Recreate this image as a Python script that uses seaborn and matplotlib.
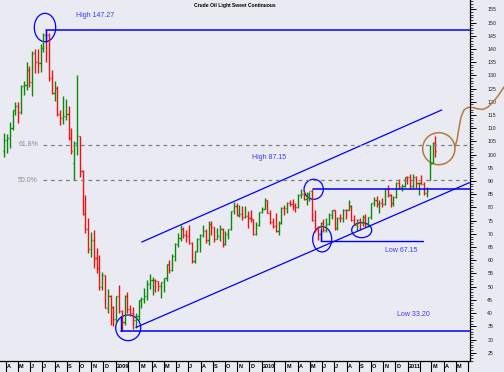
import numpy as np
import pandas as pd
import matplotlib
matplotlib.use("Agg")
import matplotlib.pyplot as plt
import matplotlib.dates as mdates
from matplotlib.patches import Ellipse
from matplotlib.ticker import MultipleLocator
import seaborn as sns

# ---------------- data (weekly OHLC) ----------------
opens = [101.5,105.6,106.2,110.1,116.7,118.5,116.3,126.0,126.3,132.2,127.4,138.5,134.9,134.6,140.2,145.3,145.1,128.9,123.3,125.1,
         115.2,113.8,114.6,115.5,106.2,97.0,104.5,106.9,93.9,77.7,71.9,64.2,67.8,61.0,57.0,49.9,54.4,42.0,46.3,42.4,
         37.7,46.3,40.8,36.5,46.5,41.7,40.2,37.5,38.9,44.8,45.5,46.3,51.1,52.4,52.5,52.2,50.3,51.6,53.2,58.6,
         56.3,61.7,66.3,68.4,72.0,69.6,69.2,66.7,59.9,63.6,68.1,69.5,70.9,67.5,73.9,72.7,68.0,69.3,72.0,66.0,
         69.9,71.8,78.5,80.5,77.0,77.4,76.4,76.7,76.1,75.5,69.9,73.4,78.1,79.4,82.8,78.0,74.5,72.9,71.2,74.1,
         79.8,79.7,81.5,81.2,80.7,80.0,84.9,85.0,83.2,85.1,86.2,75.1,71.6,70.0,74.0,71.5,73.8,77.2,78.9,72.1,
         76.1,76.0,79.0,78.9,80.7,75.4,73.5,75.2,74.6,76.5,73.7,76.5,81.6,82.7,81.3,81.7,81.4,86.9,84.9,81.5,
         83.8,89.2,87.8,88.0,91.5,91.4,88.0,91.5,89.1,89.3,89.0,85.6,90.5,96.7,104.4]
highs = [108.0,107.9,112.2,117.0,119.9,119.8,126.2,127.8,135.1,133.6,139.1,139.9,139.9,141.7,145.9,147.27,146.0,132.0,127.9,126.0,
         117.0,122.0,121.0,118.4,110.0,105.0,130.0,107.0,94.0,84.7,76.0,70.8,71.5,64.6,62.0,55.7,54.4,49.0,47.0,42.6,
         46.5,50.5,41.0,46.9,47.9,43.0,42.5,40.0,45.0,46.2,49.5,52.5,54.7,53.5,53.0,52.3,51.6,53.4,58.6,60.1,
         62.3,66.5,70.3,73.2,72.6,71.6,73.4,66.8,63.7,68.4,69.9,73.4,72.0,74.7,75.0,72.7,72.2,73.2,72.3,71.0,
         72.0,78.8,82.0,81.6,81.0,80.5,80.5,78.7,79.0,75.5,74.5,78.1,80.0,83.5,83.0,79.2,76.0,78.0,75.0,80.0,
         81.0,82.0,82.9,83.2,81.5,85.0,87.0,86.4,85.9,86.0,87.15,79.0,73.0,74.5,75.5,76.0,77.8,79.0,79.1,76.3,
         77.4,79.4,79.5,82.9,81.0,77.0,75.5,76.0,77.0,77.6,76.5,81.6,84.0,84.2,83.0,83.6,87.0,88.6,85.0,84.5,
         89.7,90.8,89.0,91.6,92.0,92.6,92.6,92.0,89.8,92.2,89.5,87.8,103.6,104.9,106.9]
lows = [99.2,100.5,102.4,109.5,115.0,111.8,115.5,122.5,124.6,125.5,122.3,130.8,131.0,131.2,139.0,135.0,128.0,122.8,120.4,114.6,
        111.3,111.4,113.0,105.5,100.2,90.4,100.0,91.6,77.0,70.2,62.8,61.4,57.0,55.2,48.8,48.8,41.8,40.0,35.5,35.2,
        36.2,40.1,33.2,35.6,40.0,38.8,33.9,34.4,37.5,41.8,43.8,45.0,49.0,47.0,48.0,48.3,45.9,48.0,52.2,55.3,
        56.1,59.7,65.1,67.4,68.6,67.0,66.3,59.0,59.1,63.0,63.1,69.0,66.6,65.7,69.5,67.0,67.9,67.4,65.1,65.6,
        68.0,71.3,77.6,76.7,76.3,75.4,76.1,72.4,74.5,69.5,69.5,73.0,77.9,79.4,77.8,73.8,72.4,70.8,69.5,73.8,
        77.3,78.0,80.4,79.0,78.3,79.7,83.6,82.7,81.0,82.4,74.7,70.8,67.5,67.15,70.8,70.8,73.5,75.5,71.6,71.6,
        74.5,74.5,75.5,78.9,75.0,73.3,71.0,71.5,73.0,72.6,72.6,75.6,80.5,80.0,78.0,80.2,80.9,84.0,80.0,80.4,
        83.5,87.0,86.2,87.6,88.9,87.0,87.3,87.2,84.6,88.9,84.9,83.9,90.4,96.7,99.0]
closes = [105.6,106.2,110.1,116.7,118.5,116.3,126.0,126.3,132.2,127.4,138.5,134.9,134.6,140.2,145.3,145.1,128.9,123.3,125.1,115.2,
          113.8,114.6,115.5,106.2,101.2,104.5,106.9,93.9,77.7,71.9,64.2,67.8,61.0,57.0,49.9,54.4,42.0,46.3,42.4,37.7,
          46.3,40.8,36.5,46.5,41.7,40.2,37.5,38.9,44.8,45.5,46.3,51.1,52.4,52.5,52.2,50.3,51.6,53.2,58.6,56.3,
          61.7,66.3,68.4,72.0,69.6,69.2,66.7,59.9,63.6,68.1,69.5,70.9,67.5,73.9,72.7,68.0,69.3,72.0,66.0,69.9,
          71.8,78.5,80.5,77.0,77.4,76.4,76.7,76.1,75.5,69.9,73.4,78.1,79.4,82.8,78.0,74.5,72.9,71.2,74.1,79.8,
          79.7,81.5,81.2,80.7,80.0,84.9,85.0,83.2,85.1,86.2,75.1,71.6,70.0,74.0,71.5,73.8,77.2,78.9,72.1,76.1,
          76.0,79.0,78.9,80.7,75.4,73.5,75.2,74.6,76.5,73.7,76.5,81.6,82.7,81.3,81.7,81.4,86.9,84.9,81.5,83.8,
          89.2,87.8,88.0,91.5,91.4,88.0,91.5,89.1,89.3,89.0,85.6,86.2,96.5,104.4,101.2]
first_week = "2008-03-28"

title = "Crude Oil Light Sweet Continuous"
month_labels = ["A","M","J","J","A","S","O","N","D","2009","","M","A","M","J","J","A","S","O","N","D",
                "2010","","M","A","M","J","J","A","S","O","N","D","2011","","M","A","M"]
high_level, low_level = 147.27, 33.20
high2_level, low2_level = 87.15, 67.15
fib_levels = [low_level + 0.618 * (high_level - low_level), low_level + 0.5 * (high_level - low_level)]
fib_labels = ["61.8%", "50.0%"]

# ---------------- style ----------------
sns.set_theme(style="dark", rc={"axes.facecolor": "#EAEAF2", "figure.facecolor": "#EAEAF2"})
plt.rcParams["font.family"] = ["Liberation Sans", "DejaVu Sans"]

fig = plt.figure(figsize=(5.04, 3.72), dpi=100)
ax = fig.add_axes([0, 11 / 372, 470 / 504, 361 / 372])

n = len(closes)
dates = pd.date_range(first_week, periods=n, freq="W-FRI")
xd = mdates.date2num(dates)
up = np.array(closes) >= np.array(opens)
cols = np.where(up, "#0A890A", "#EE1111")

ax.vlines(xd, lows, highs, colors=cols, lw=1.0)
ax.hlines(opens, xd - 2.7, xd, colors=cols, lw=1.0)
ax.hlines(closes, xd, xd + 2.7, colors=cols, lw=1.0)

base = pd.Timestamp("2008-04-01")
def D(days):
    return mdates.date2num(base + pd.to_timedelta(days, unit="D"))

x0, x1 = D(-14.25), D(1160.75)
ax.set_xlim(x0, x1)
ax.set_ylim(21.88, 158.52)

blue = "#0000FF"
# horizontal levels
ax.plot([D(100), x1], [high_level, high_level], color=blue, lw=1.1)
ax.plot([D(100), D(100)], [high_level, 142.7], color=blue, lw=1.0)
ax.plot([D(288.25), x1], [low_level, low_level], color=blue, lw=1.1)
ax.plot([D(288.25), D(288.25)], [low_level, 39.0], color=blue, lw=1.0)
ax.plot([D(767), x1], [high2_level, high2_level], color=blue, lw=1.1)
ax.plot([D(788.25), D(1042.5)], [low2_level, low2_level], color=blue, lw=1.0)
ax.plot([D(788.25), D(788.25)], [low2_level, 71.5], color=blue, lw=1.0)

# channel lines
sns.lineplot(x=[D(340), D(1090)], y=[66.9, 116.9], ax=ax, color=blue, lw=0.9)
sns.lineplot(x=[D(325.75), D(1159.5)], y=[34.6, 89.4], ax=ax, color=blue, lw=0.9)

# fibonacci dashed lines
for lv, lb in zip(fib_levels, fib_labels):
    ax.plot([D(93.25), x1], [lv, lv], color="#808080", lw=0.9, ls=(0, (3, 3)))
    ax.text(D(80.75), lv, lb, ha="right", va="center", fontsize=5, color="#8C8C8C")

# circles
for cx, cy, w, h in [(98.25, 148.1, 53.5, 10.75), (306.25, 34.45, 62.5, 9.73),
                     (770, 86.87, 48.25, 7.57), (791.25, 67.95, 47.5, 9.58),
                     (890, 71.4, 50, 5.68)]:
    ax.add_patch(Ellipse((D(cx), cy), w, h, fill=False, ec=blue, lw=0.9))
brown = "#B47A40"
ax.add_patch(Ellipse((D(1082.75), 102.24), 80.75, 12.1, fill=False, ec=brown, lw=1.1))
cd = [1123.25, 1128.25, 1133.25, 1138.25, 1145.75, 1155.75, 1168.25, 1180.75, 1193.25, 1205.75, 1218.25, 1230.75, 1245.75]
cp = [103.0, 105.5, 110.1, 114.2, 116.9, 117.9, 117.8, 117.3, 117.1, 118.0, 119.9, 122.2, 125.6]
ax.plot([D(d) for d in cd], cp, color=brown, lw=1.1, clip_on=False, solid_capstyle="round")

# texts
tc = "#3A3AF0"
ax.text(D(175.75), 152.8, "High 147.27", fontsize=5, color=tc, va="center")
ax.text(D(615), 99.0, "High 87.15", fontsize=5, color=tc, va="center")
ax.text(D(948.25), 63.6, "Low 67.15", fontsize=5, color=tc, va="center")
ax.text(D(977.5), 39.6, "Low 33.20", fontsize=5, color=tc, va="center")
ax.text(0.5, 0.986, title, transform=ax.transAxes, ha="center", va="center",
        fontsize=3.6, fontweight="bold", color="black")

# axes: x month ticks
months = pd.date_range("2008-04-01", "2011-06-01", freq="MS")
mx = mdates.date2num(months)
ax.set_xticks(mx)
ax.set_xticklabels([])
ax.tick_params(axis="x", bottom=True, length=8, width=0.8, color="black", direction="out")
for m, lab in zip(mx[:-1], month_labels):
    if lab:
        ax.text(m + 2.5, -0.016, lab, transform=ax.get_xaxis_transform(), ha="left", va="center",
                fontsize=4, fontweight="bold", color="black", clip_on=False)

# y axis on right
ax.yaxis.tick_right()
ax.set_yticks(np.arange(25, 156, 5))
ax.yaxis.set_minor_locator(MultipleLocator(1))
ax.tick_params(axis="y", which="major", right=True, left=False, labelright=True, labelleft=False,
               length=4.5, width=0.7, color="black", direction="out", pad=8, labelsize=3.8, labelcolor="#222222")
ax.tick_params(axis="y", which="minor", right=True, left=False, length=2, width=0.5, color="black", direction="out")

for s in ["left", "top"]:
    ax.spines[s].set_visible(False)
for s in ["right", "bottom"]:
    ax.spines[s].set_visible(True)
    ax.spines[s].set_color("black")
    ax.spines[s].set_linewidth(0.9)
ax.set_xlabel("")
ax.set_ylabel("")
ax.grid(False)

fig.savefig("out.png", dpi=100, facecolor=fig.get_facecolor())
